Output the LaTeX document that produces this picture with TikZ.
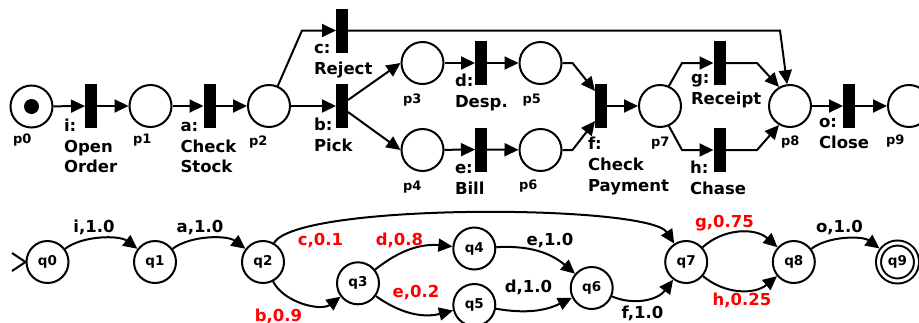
\documentclass[tikz,border=0pt]{standalone}
\usepackage{fontspec}
\setmainfont{DejaVu Sans}
\usetikzlibrary{arrows.meta}
\begin{document}
\begin{tikzpicture}[x=1pt,y=-1pt,line width=2pt,
  place/.style={circle,draw,line width=2pt,minimum size=42pt,inner sep=0pt},
  token/.style={circle,fill=black,minimum size=15pt,inner sep=0pt},
  trans/.style={rectangle,fill=black,minimum width=12pt,minimum height=44pt,inner sep=0pt,outer sep=0pt},
  plab/.style={font=\fontsize{13}{15}\selectfont\bfseries,anchor=base west,inner sep=0pt},
  tlab/.style={font=\fontsize{16.5}{20}\selectfont\bfseries,anchor=base west,inner sep=0pt},
  state/.style={circle,draw,line width=2pt,minimum size=42pt,inner sep=0pt,font=\fontsize{13.5}{15}\selectfont\bfseries},
  accepting/.style={double,double distance=3pt,minimum size=38pt,outer sep=3.5pt},
  elab/.style={font=\fontsize{16.5}{20}\selectfont\bfseries,anchor=base,inner sep=0pt},
  prob/.style={elab,text=red},
  arr/.style={line width=2pt,-{Triangle[length=14pt,width=13pt]}}]
\useasboundingbox (0,0) rectangle (919,322);

% ---------- Petri net ----------
\node[place] (p0) at (31.5,106.5) {};
\node[token] (tok) at (p0) {};
\node[trans] (ti) at (91,106) {};
\node[place] (p1) at (150.5,106) {};
\node[trans] (ta) at (209.5,106) {};
\node[place] (p2) at (269,106) {};
\node[trans] (tc) at (342,30.5) {};
\node[trans] (tb) at (342,106) {};
\node[place] (p3) at (422.5,63) {};
\node[place] (p4) at (422.5,150) {};
\node[trans] (td) at (481,63) {};
\node[trans] (te) at (481,149.5) {};
\node[place] (p5) at (540.5,63) {};
\node[place] (p6) at (540.5,150) {};
\node[trans] (tf) at (601,106) {};
\node[place] (p7) at (660,106) {};
\node[trans] (tg) at (719.5,63) {};
\node[trans] (th) at (719.5,150) {};
\node[place] (p8) at (790,106) {};
\node[trans] (t-o) at (849,106) {};
\node[place] (p9) at (909,106) {};

% place names
\node[plab] (n-p0) at (12,143.5) {p0};
\node[plab] (n-p1) at (132,143.5) {p1};
\node[plab] (n-p2) at (248,145) {p2};
\node[plab] (n-p3) at (402,103.3) {p3};
\node[plab] (n-p4) at (402,190.7) {p4};
\node[plab] (n-p5) at (521.5,103.3) {p5};
\node[plab] (n-p6) at (518,189.3) {p6};
\node[plab] (n-p7) at (650,146) {p7};
\node[plab] (n-p8) at (780,145) {p8};
\node[plab] (n-p9) at (885,144) {p9};

% transition names
\node[tlab] (l-i1) at (63,131) {i:};
\node[tlab] (l-i2) at (63,152) {Open};
\node[tlab] (l-i3) at (63,172.5) {Order};
\node[tlab] (l-a1) at (179.5,131) {a:};
\node[tlab] (l-a2) at (179.5,152) {Check};
\node[tlab] (l-a3) at (179.5,172.5) {Stock};
\node[tlab] (l-c1) at (313,53) {c:};
\node[tlab] (l-c2) at (313,74) {Reject};
\node[tlab] (l-b1) at (313,130.5) {b:};
\node[tlab] (l-b2) at (313,151.5) {Pick};
\node[tlab] (l-d1) at (454,86) {d:};
\node[tlab] (l-d2) at (454,107) {Desp.};
\node[tlab] (l-e1) at (454,173) {e:};
\node[tlab] (l-e2) at (454,194) {Bill};
\node[tlab] (l-f1) at (587,149.5) {f:};
\node[tlab] (l-f2) at (587,170.5) {Check};
\node[tlab] (l-f3) at (587,191.5) {Payment};
\node[tlab] (l-g1) at (690,83) {g:};
\node[tlab] (l-g2) at (690,104) {Receipt};
\node[tlab] (l-h1) at (689,173.5) {h:};
\node[tlab] (l-h2) at (689,194.5) {Chase};
\node[tlab] (l-o1) at (818,127) {o:};
\node[tlab] (l-o2) at (818,148) {Close};

% arcs
\draw[arr] (p0) -- (ti);
\draw[arr] (ti) -- (p1);
\draw[arr] (p1) -- (ta);
\draw[arr] (ta) -- (p2);
\draw[arr] (p2) -- (tb);
\coordinate (cup) at (302,30.5);
\draw[arr] (p2) -- (cup) -- (tc);
\coordinate (cdown) at (780,30.5);
\draw[arr] (tc) -- (cdown) -- (p8);
\draw[arr] ([yshift=6pt]tb.east) -- (p3.west);
\draw[arr] ([yshift=-6pt]tb.east) -- (p4.west);
\draw[arr] (p3) -- (td);
\draw[arr] (td) -- (p5);
\draw[arr] (p4) -- (te);
\draw[arr] (te) -- (p6);
\draw[arr] (p5.east) -- ++(10,0) -- ([yshift=15pt]tf.west);
\draw[arr] (p6.east) -- ++(10,0) -- ([yshift=-15pt]tf.west);
\draw[arr] (tf) -- (p7);
\draw[arr] (p7.66) -- (682,63) -- (tg);
\draw[arr] (tg) -- (757,63) -- (p8.120);
\draw[arr] (p7.-66) -- (682,150) -- (th);
\draw[arr] (th) -- (757,150) -- (p8.-120);
\draw[arr] (p8) -- (t-o);
\draw[arr] (t-o) -- (p9);

% ---------- automaton ----------
\node[state] (q0) at (47.5,262) {q0};
\node[state] (q1) at (155,262) {q1};
\node[state] (q2) at (263,262) {q2};
\node[state] (q3) at (358,283.3) {q3};
\node[state] (q4) at (474.3,248.5) {q4};
\node[state] (q5) at (474.3,305) {q5};
\node[state] (q6) at (591.7,288) {q6};
\node[state] (q7) at (686.2,262) {q7};
\node[state] (q8) at (793.8,262) {q8};
\node[state,accepting] (q9) at (897.5,262) {q9};

% initial marker
\coordinate (init) at (q0.west);
\draw (init) ++(-13.5,-9) -- (init) -- ++(-13.5,9);

\draw[arr] (q0) to[bend left=37,looseness=0.8] (q1);
\draw[arr] (q1) to[bend left=37,looseness=0.8] (q2);
\draw[arr] (q2) to[out=60,in=123,looseness=0.3] (q7);
\draw[arr] (q2) to[bend right=50,looseness=0.9] (q3);
\draw[arr] (q3) to[bend left=22] (q4);
\draw[arr] (q3) to[bend right=25] (q5);
\draw[arr] (q4) to[bend left=22] (q6);
\draw[arr] (q5) to[bend right=18] (q6);
\draw[arr] (q6) to[bend right=38] (q7);
\draw[arr] (q7) to[bend left=42] (q8);
\draw[arr] (q7) to[bend right=40] (q8);
\draw[arr] (q8) to[bend left=37,looseness=0.8] (q9);

% edge labels
\node[elab] (e-i) at (94,232.5) {i,1.0};
\node[elab] (e-a) at (200,232.5) {a,1.0};
\node[prob] (e-c) at (320.5,245) {c,0.1};
\node[prob] (e-d8) at (399.5,245) {d,0.8};
\node[prob] (e-e2) at (416,297.5) {e,0.2};
\node[prob] (e-b) at (278.5,321.5) {b,0.9};
\node[elab] (e-e1) at (550,245) {e,1.0};
\node[elab] (e-d1) at (528.5,292.5) {d,1.0};
\node[elab] (e-f) at (642.5,318) {f,1.0};
\node[prob] (e-g) at (724.5,227) {g,0.75};
\node[prob] (e-h) at (742,305.5) {h,0.25};
\node[elab] (e-o) at (839.5,232) {o,1.0};
\end{tikzpicture}
\end{document}
